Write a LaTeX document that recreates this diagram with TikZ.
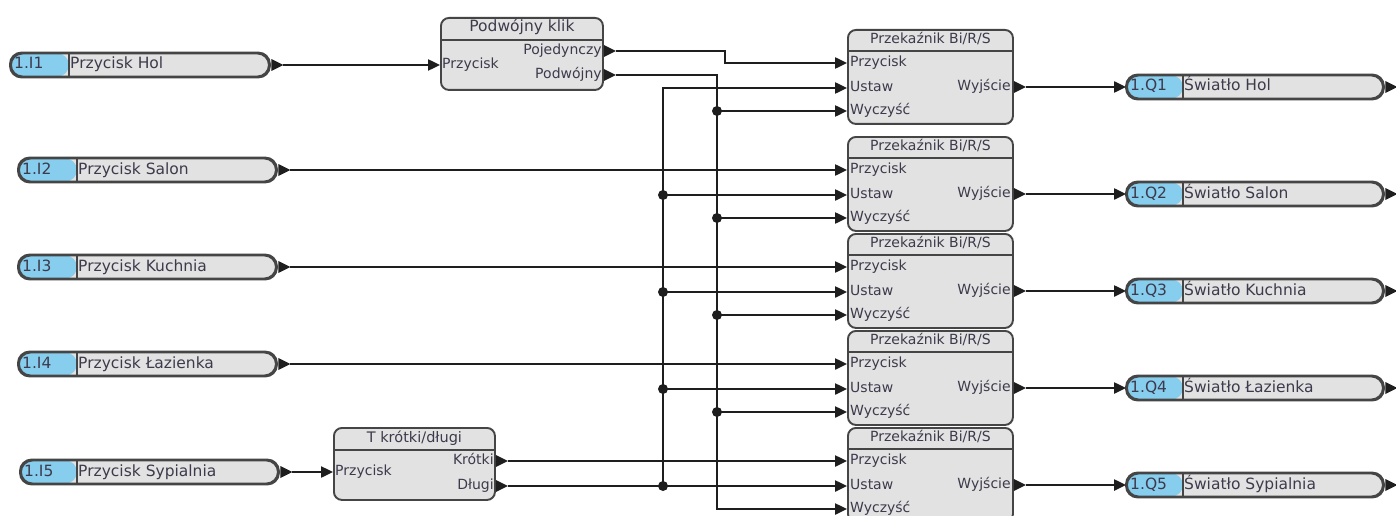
\documentclass[tikz,border=0pt]{standalone}
\usepackage{fontspec}
\setmainfont{DejaVu Sans}
\usetikzlibrary{arrows.meta}
\definecolor{boxgray}{HTML}{E2E2E2}
\definecolor{edge}{HTML}{454545}
\definecolor{pblue}{HTML}{86CDEE}
\definecolor{txt}{HTML}{3E3A4C}
\definecolor{wirec}{HTML}{1E1E1E}
\tikzset{
 wire/.style={draw=wirec, line width=2.4pt},
 arr/.style={-{Triangle[length=12pt,width=11pt]}},
 blk/.style={draw=edge, line width=1.9pt, fill=boxgray, rounded corners=8pt, inner sep=0pt},
 sep/.style={draw=edge, line width=1.9pt},
 hdr/.style={font=\fontsize{14}{16}\selectfont, text=txt, inner sep=0pt, text height=10pt, text depth=3pt},
 port/.style={font=\fontsize{14}{16}\selectfont, text=txt, inner sep=0pt, text height=10pt, text depth=3pt},
 plab/.style={font=\fontsize{15.5}{17}\selectfont, text=txt, inner sep=0pt, text height=11pt, text depth=3pt},
 jdot/.style={circle, fill=wirec, inner sep=0pt, minimum size=10pt},
}
% output triangle: #1 base coordinate name, #2 name of tip coordinate
\newcommand\otri[2]{%
 \fill[wirec] ([yshift=6pt]#1) -- ([xshift=12pt]#1) -- ([yshift=-6pt]#1) -- cycle;
 \coordinate (#2) at ([xshift=12pt]#1);}
% pill: name, xl, xr, y, blue width, id, label
\newcommand\pill[7]{%
 \node[draw=edge, line width=1.9pt, fill=boxgray, rounded corners=11.5pt,
   minimum width={#3-#2}, minimum height=23pt, inner sep=0pt, anchor=west,
   path picture={\fill[pblue] (path picture bounding box.north west) rectangle ([xshift=#5pt]path picture bounding box.south west);
     \draw[edge, line width=1.9pt] ([xshift=#5pt]path picture bounding box.north west) -- ([xshift=#5pt]path picture bounding box.south west);}]
   (#1) at (#2,#4) {};
 \draw[edge, line width=1.9pt, rounded corners=11.5pt] (#1.north west) rectangle (#1.south east);
 \node[plab, anchor=west] (#1-id) at ([xshift=4pt]#1.west) {#6};
 \node[plab, anchor=west] (#1-lb) at ([xshift={(#5+2)*1pt}]#1.west) {#7};
 \coordinate (#1-e) at ([xshift=1.5pt]#1.east);
 \otri{#1-e}{#1o}}
% relay block: name, top y
\newcommand\relay[2]{%
 \node[blk, minimum width=165pt, minimum height=94pt, anchor=north west] (#1) at (847,#2) {};
 \draw[sep] ([yshift=-22pt]#1.north west) -- ([yshift=-22pt]#1.north east);
 \node[hdr] (#1-h) at ([yshift=-11pt]#1.north) {Przekaźnik Bi/R/S};
 \coordinate (#1p) at ([yshift=-34pt]#1.north west);
 \coordinate (#1u) at ([yshift=-59pt]#1.north west);
 \coordinate (#1w) at ([yshift=-82pt]#1.north west);
 \coordinate (#1y) at ([yshift=-58pt]#1.north east);
 \node[port, anchor=west] (#1-lp) at ([xshift=3pt]#1p) {Przycisk};
 \node[port, anchor=west] (#1-lu) at ([xshift=3pt]#1u) {Ustaw};
 \node[port, anchor=west] (#1-lw) at ([xshift=3pt]#1w) {Wyczyść};
 \node[port, anchor=east] (#1-ly) at ([xshift=-3pt]#1y) {Wyjście};
 \otri{#1y}{#1o}}
\begin{document}
\begin{tikzpicture}[x=1pt,y=-1pt]
\clip (0,0) rectangle (1396,516);
\fill[white] (0,0) rectangle (1396,516);

% inputs
\pill{i1}{10}{268}{65}{58}{1.I1}{Przycisk Hol}
\pill{i2}{18}{275}{170}{58}{1.I2}{Przycisk Salon}
\pill{i3}{18}{275}{267}{58}{1.I3}{Przycisk Kuchnia}
\pill{i4}{18}{275}{364}{58}{1.I4}{Przycisk Łazienka}
\pill{i5}{20}{277}{472}{56}{1.I5}{Przycisk Sypialnia}

% relays
\relay{r1}{29}
\relay{r2}{136}
\relay{r3}{233}
\relay{r4}{330}
\relay{r5}{427}

% outputs
\pill{q1}{1126}{1382}{87}{56}{1.Q1}{Światło Hol}
\pill{q2}{1126}{1382}{194}{56}{1.Q2}{Światło Salon}
\pill{q3}{1126}{1382}{291}{56}{1.Q3}{Światło Kuchnia}
\pill{q4}{1126}{1382}{388}{56}{1.Q4}{Światło Łazienka}
\pill{q5}{1126}{1382}{485}{56}{1.Q5}{Światło Sypialnia}

% double click block
\node[blk, minimum width=162pt, minimum height=72pt, anchor=north west] (dk) at (440,17) {};
\draw[sep] ([yshift=-23pt]dk.north west) -- ([yshift=-23pt]dk.north east);
\node[hdr, font=\fontsize{15.5}{17}\selectfont] (dk-h) at ([yshift=-11.5pt]dk.north) {Podwójny klik};
\coordinate (dkin) at ([yshift=-48pt]dk.north west);
\coordinate (dkpj) at ([yshift=-34pt]dk.north east);
\coordinate (dkpw) at ([yshift=-58pt]dk.north east);
\node[port, anchor=west] (dk-li) at ([xshift=2pt]dkin) {Przycisk};
\node[port, anchor=east] (dk-lj) at ([xshift=-2pt]dkpj) {Pojedynczy};
\node[port, anchor=east] (dk-lw) at ([xshift=-2pt]dkpw) {Podwójny};
\otri{dkpj}{dkpjo}
\otri{dkpw}{dkpwo}

% short/long block
\node[blk, minimum width=161pt, minimum height=72pt, anchor=north west] (tk) at (333,427) {};
\draw[sep] ([yshift=-23pt]tk.north west) -- ([yshift=-23pt]tk.north east);
\node[hdr, font=\fontsize{14.5}{16}\selectfont] (tk-h) at ([yshift=-11.5pt]tk.north) {T krótki/długi};
\coordinate (tkin) at ([yshift=-45pt]tk.north west);
\coordinate (tkk) at ([yshift=-34pt]tk.north east);
\coordinate (tkd) at ([yshift=-59pt]tk.north east);
\node[port, anchor=west] (tk-li) at ([xshift=2pt]tkin) {Przycisk};
\node[port, anchor=east] (tk-lk) at ([xshift=-2pt]tkk) {Krótki};
\node[port, anchor=east] (tk-ld) at ([xshift=-2pt]tkd) {Długi};
\otri{tkk}{tkko}
\otri{tkd}{tkdo}

% wires
\draw[wire,arr] (i1o) -- (dkin);
\draw[wire,arr] (dkpjo) -- ++(109,0) |- (r1p);
\coordinate (vw) at (717,75);
\draw[wire,arr] (dkpwo) -- (vw) |- (r5w);
\foreach \r in {r1,r2,r3,r4}{
  \draw[wire,arr] (vw |- \r w) -- (\r w);
  \node[jdot] (dw\r) at (vw |- \r w) {};
}
\coordinate (vu) at (663,486);
\draw[wire,arr] (tkdo) -- (r5u);
\draw[wire,arr] (vu) |- (r1u);
\node[jdot] (du5) at (vu) {};
\foreach \r in {r2,r3,r4}{
  \draw[wire,arr] (vu |- \r u) -- (\r u);
  \node[jdot] (du\r) at (vu |- \r u) {};
}
\draw[wire,arr] (tkko) -- (r5p);
\draw[wire,arr] (i2o) -- (r2p);
\draw[wire,arr] (i3o) -- (r3p);
\draw[wire,arr] (i4o) -- (r4p);
\draw[wire,arr] (i5o) -- (tkin);
\foreach \k in {1,...,5}{
  \draw[wire,arr] (r\k o) -- (q\k.west);
}
\end{tikzpicture}
\end{document}
